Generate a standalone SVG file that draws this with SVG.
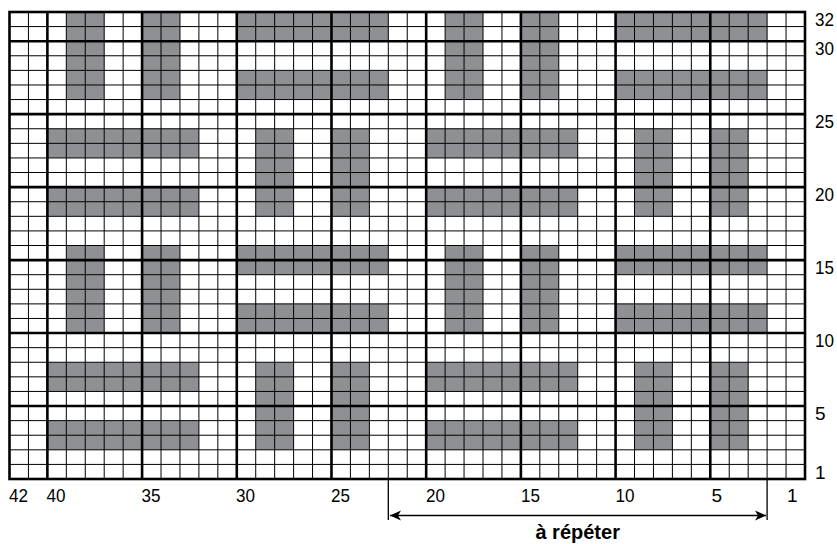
<svg xmlns="http://www.w3.org/2000/svg" width="837" height="544" viewBox="0 0 837 544">
<style>
.k{fill:#8f9094}
.thin{stroke:#000;stroke-width:1;fill:none}
.thick{stroke:#000;stroke-width:2.6;fill:none}
.lab{font-family:"Liberation Sans",Arial,sans-serif;font-size:19px;fill:#000}
.rep{font-family:"Liberation Sans",Arial,sans-serif;font-size:20px;font-weight:bold;fill:#000}
.ar{stroke:#000;stroke-width:1.3;fill:none}
</style>
<defs>
<marker id="ah" viewBox="-12 -6 13 12" refX="0" refY="0" markerWidth="13" markerHeight="12" markerUnits="userSpaceOnUse" orient="auto-start-reverse">
<path d="M0,0 L-11,-5 L-8,0 L-11,5 Z" fill="#000"/>
</marker>
</defs>
<rect x="0" y="0" width="837" height="544" fill="#fff"/>
<g id="fills">
<rect class="k" x="66.32" y="12" width="37.88" height="87.56"/>
<rect class="k" x="142.08" y="12" width="37.88" height="87.56"/>
<rect class="k" x="445.12" y="12" width="37.88" height="87.56"/>
<rect class="k" x="520.88" y="12" width="37.88" height="87.56"/>
<rect class="k" x="236.78" y="12" width="151.52" height="29.19"/>
<rect class="k" x="236.78" y="70.38" width="151.52" height="29.19"/>
<rect class="k" x="615.58" y="12" width="151.52" height="29.19"/>
<rect class="k" x="615.58" y="70.38" width="151.52" height="29.19"/>
<rect class="k" x="47.38" y="128.75" width="151.52" height="29.19"/>
<rect class="k" x="47.38" y="187.13" width="151.52" height="29.19"/>
<rect class="k" x="426.18" y="128.75" width="151.52" height="29.19"/>
<rect class="k" x="426.18" y="187.13" width="151.52" height="29.19"/>
<rect class="k" x="255.72" y="128.75" width="37.88" height="87.56"/>
<rect class="k" x="331.48" y="128.75" width="37.88" height="87.56"/>
<rect class="k" x="634.52" y="128.75" width="37.88" height="87.56"/>
<rect class="k" x="710.28" y="128.75" width="37.88" height="87.56"/>
<rect class="k" x="66.32" y="245.5" width="37.88" height="87.56"/>
<rect class="k" x="142.08" y="245.5" width="37.88" height="87.56"/>
<rect class="k" x="445.12" y="245.5" width="37.88" height="87.56"/>
<rect class="k" x="520.88" y="245.5" width="37.88" height="87.56"/>
<rect class="k" x="236.78" y="245.5" width="151.52" height="29.19"/>
<rect class="k" x="236.78" y="303.88" width="151.52" height="29.19"/>
<rect class="k" x="615.58" y="245.5" width="151.52" height="29.19"/>
<rect class="k" x="615.58" y="303.88" width="151.52" height="29.19"/>
<rect class="k" x="47.38" y="362.26" width="151.52" height="29.19"/>
<rect class="k" x="47.38" y="420.63" width="151.52" height="29.19"/>
<rect class="k" x="426.18" y="362.26" width="151.52" height="29.19"/>
<rect class="k" x="426.18" y="420.63" width="151.52" height="29.19"/>
<rect class="k" x="255.72" y="362.26" width="37.88" height="87.56"/>
<rect class="k" x="331.48" y="362.26" width="37.88" height="87.56"/>
<rect class="k" x="634.52" y="362.26" width="37.88" height="87.56"/>
<rect class="k" x="710.28" y="362.26" width="37.88" height="87.56"/>
</g>
<g id="grid">
<path class="thin" d="M28.44,12V479 M66.32,12V479 M85.26,12V479 M104.2,12V479 M123.14,12V479 M161.02,12V479 M179.96,12V479 M198.9,12V479 M217.84,12V479 M255.72,12V479 M274.66,12V479 M293.6,12V479 M312.54,12V479 M350.42,12V479 M369.36,12V479 M388.3,12V479 M407.24,12V479 M445.12,12V479 M464.06,12V479 M483,12V479 M501.94,12V479 M539.82,12V479 M558.76,12V479 M577.7,12V479 M596.64,12V479 M634.52,12V479 M653.46,12V479 M672.4,12V479 M691.34,12V479 M729.22,12V479 M748.16,12V479 M767.1,12V479 M786.04,12V479"/>
<path class="thin" d="M9.5,26.59H805 M9.5,55.78H805 M9.5,70.38H805 M9.5,84.97H805 M9.5,99.56H805 M9.5,128.75H805 M9.5,143.35H805 M9.5,157.94H805 M9.5,172.53H805 M9.5,201.72H805 M9.5,216.32H805 M9.5,230.91H805 M9.5,245.5H805 M9.5,274.69H805 M9.5,289.29H805 M9.5,303.88H805 M9.5,318.47H805 M9.5,347.66H805 M9.5,362.26H805 M9.5,376.85H805 M9.5,391.44H805 M9.5,420.63H805 M9.5,435.23H805 M9.5,449.82H805 M9.5,464.41H805"/>
<path class="thick" d="M47.38,12V479 M142.08,12V479 M236.78,12V479 M331.48,12V479 M426.18,12V479 M520.88,12V479 M615.58,12V479 M710.28,12V479"/>
<path class="thick" d="M9.5,41.19H805 M9.5,114.16H805 M9.5,187.13H805 M9.5,260.1H805 M9.5,333.07H805 M9.5,406.04H805"/>
<rect class="thick" x="9.5" y="12" width="795.5" height="467"/>
</g>
<g id="row-labels" class="lab">
<text x="815" y="26" textLength="19" lengthAdjust="spacingAndGlyphs">32</text>
<text x="815" y="55.2" textLength="19" lengthAdjust="spacingAndGlyphs">30</text>
<text x="815" y="128.2" textLength="19" lengthAdjust="spacingAndGlyphs">25</text>
<text x="815" y="201.2" textLength="19" lengthAdjust="spacingAndGlyphs">20</text>
<text x="815" y="274.2" textLength="19" lengthAdjust="spacingAndGlyphs">15</text>
<text x="815" y="347.2" textLength="19" lengthAdjust="spacingAndGlyphs">10</text>
<text x="815" y="420.1">5</text>
<text x="815" y="478.5">1</text>
</g>
<g id="col-labels" class="lab">
<text x="9" y="501.5" textLength="19" lengthAdjust="spacingAndGlyphs">42</text>
<text x="46.5" y="501.5" textLength="19" lengthAdjust="spacingAndGlyphs">40</text>
<text x="141.5" y="501.5" textLength="19" lengthAdjust="spacingAndGlyphs">35</text>
<text x="236" y="501.5" textLength="19" lengthAdjust="spacingAndGlyphs">30</text>
<text x="331" y="501.5" textLength="19" lengthAdjust="spacingAndGlyphs">25</text>
<text x="426" y="501.5" textLength="19" lengthAdjust="spacingAndGlyphs">20</text>
<text x="521" y="501.5" textLength="19" lengthAdjust="spacingAndGlyphs">15</text>
<text x="615.5" y="501.5" textLength="19" lengthAdjust="spacingAndGlyphs">10</text>
<text x="711.5" y="501.5">5</text>
<text x="787" y="501.5">1</text>
</g>
<g id="connectors">
<path class="ar" d="M388.3,479V520 M767.1,479V520"/>
<path class="ar" d="M390,515.5H766" marker-start="url(#ah)" marker-end="url(#ah)"/>
</g>
<g id="repeat-label">
<text class="rep" x="577.7" y="539" text-anchor="middle">à répéter</text>
</g>
</svg>
